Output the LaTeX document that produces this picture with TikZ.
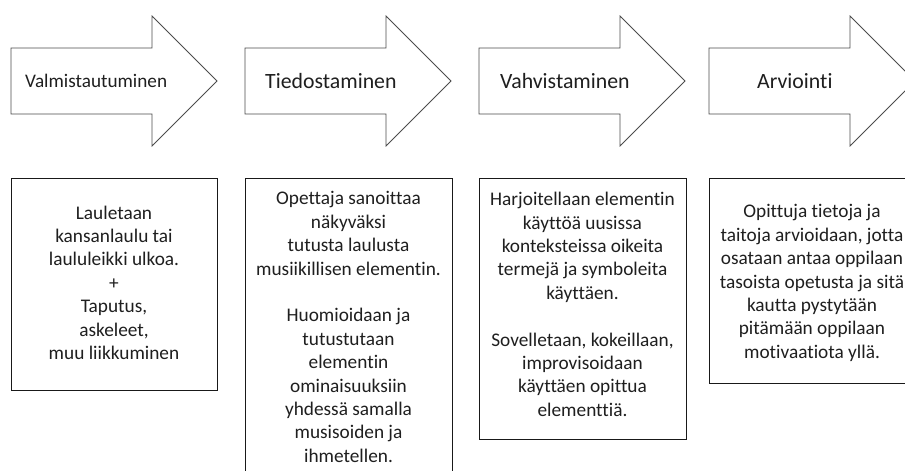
\documentclass[tikz,border=0pt]{standalone}
\usepackage{fontspec}
\setmainfont{Carlito}[Ligatures={NoCommon,NoRare}]
\begin{document}
\begin{tikzpicture}[x=1pt,y=-1pt,
  arrowshape/.style={draw=black!70,line width=0.8pt,fill=white},
  boxshape/.style={draw=black!90,line width=0.8pt,fill=white},
  headtext/.style={anchor=west,inner sep=0pt,text=black!88,font=\fontsize{21.8}{26}\selectfont},
  boxtext/.style={anchor=north,inner sep=0pt,align=center,text=black!88,font=\fontsize{19.3}{23.4}\selectfont}]
\useasboundingbox (0,0) rectangle (905,471);
\clip (0,0) rectangle (905,471);
% arrows
\foreach \L in {11,245,479,709}{
  \draw[arrowshape] (\L,48) -- (\L+141,48) -- (\L+141,16) -- (\L+206,81)
     -- (\L+141,146) -- (\L+141,114) -- (\L,114) -- cycle;
}
\node[headtext,font=\fontsize{19.2}{23}\selectfont] (h1) at (25,81) {Valmistautuminen};
\node[headtext] (h2) at (265,81) {Tiedostaminen};
\node[headtext] (h3) at (500,81) {Vahvistaminen};
\node[headtext] (h4) at (757,81) {Arviointi};
% boxes
\draw[boxshape] (11,178) rectangle (217,390);
\draw[boxshape] (245,178) rectangle (452,480);
\draw[boxshape] (479,178) rectangle (686,439);
\draw[boxshape] (709,178) rectangle (915,383);
\node[boxtext] (t1) at (114,205.5) {Lauletaan\\kansanlaulu tai\\laululeikki ulkoa.\\+\\Taputus,\\askeleet,\\muu liikkuminen};
\node[boxtext] (t2) at (348.5,191.5) {Opettaja sanoittaa\\näkyväksi\\tutusta laulusta\\musiikillisen elementin.\\~\\Huomioidaan ja\\tutustutaan\\elementin\\ominaisuuksiin\\yhdessä samalla\\musisoiden ja\\ihmetellen.};
\node[boxtext] (t3) at (582.5,192) {Harjoitellaan elementin\\käyttöä uusissa\\konteksteissa oikeita\\termejä ja symboleita\\käyttäen.\\~\\Sovelletaan, kokeillaan,\\improvisoidaan\\käyttäen opittua\\elementtiä.};
\node[boxtext] (t4) at (812,204.5) {Opittuja tietoja ja\\taitoja arvioidaan, jotta\\osataan antaa oppilaan\\tasoista opetusta ja sitä\\kautta pystytään\\pitämään oppilaan\\motivaatiota yllä.};
\end{tikzpicture}
\end{document}
